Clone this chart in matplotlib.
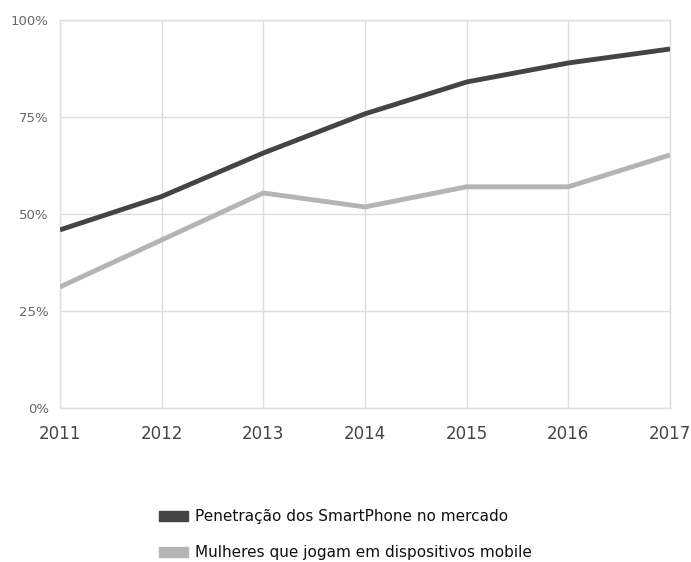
import matplotlib as mpl
mpl.use('Agg')
import matplotlib.pyplot as plt
from matplotlib.patches import Patch

years = [2011, 2012, 2013, 2014, 2015, 2016, 2017]
smartphone = [45.9, 54.5, 65.7, 75.8, 84.0, 88.9, 92.5]
mulheres = [31.2, 43.3, 55.4, 51.8, 57.0, 57.0, 65.2]
y_ticks = [0, 25, 50, 75, 100]
y_labels = ['0%', '25%', '50%', '75%', '100%']
labels = ['Penetração dos SmartPhone no mercado',
          'Mulheres que jogam em dispositivos mobile']

dark = '#444444'
light = '#b4b4b4'
grid = '#dedede'

fig = plt.figure(figsize=(6.91, 5.62), dpi=100)
ax = fig.add_axes([0.0868, 0.274, 0.8828, 0.6906])

ax.plot(years, smartphone, color=dark, lw=3.5, solid_capstyle='butt', zorder=3)
ax.plot(years, mulheres, color=light, lw=3.5, solid_capstyle='butt', zorder=3)

ax.set_xlim(2011, 2017)
ax.set_ylim(0, 100)
ax.set_xticks(years)
ax.set_yticks(y_ticks)
ax.set_yticklabels(y_labels)
ax.grid(True, color=grid, lw=1.0)
for s in ax.spines.values():
    s.set_color(grid)
    s.set_linewidth(1.0)
ax.tick_params(length=0)
ax.tick_params(axis='x', labelsize=12, colors='#444444', pad=12)
ax.tick_params(axis='y', labelsize=9.5, colors='#666666', pad=8)

handles = [Patch(color=dark), Patch(color=light)]
fig.legend(handles, labels, loc='upper center', bbox_to_anchor=(0.5, 0.118), frameon=False,
           fontsize=11, handlelength=1.85, handleheight=0.6, labelspacing=1.35,
           handletextpad=0.45, labelcolor='#111111')

fig.savefig('out.png', dpi=100)
